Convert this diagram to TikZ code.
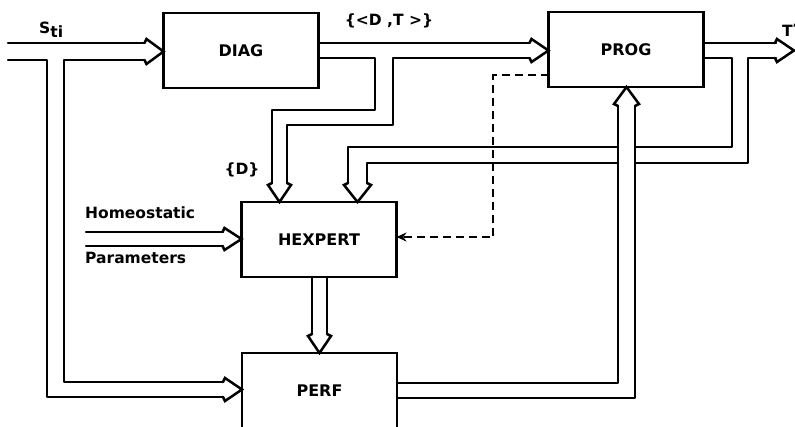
\documentclass[tikz,border=0pt]{standalone}
\usepackage{fontspec}
\setmainfont{DejaVu Sans}
\usetikzlibrary{arrows.meta,calc}
\tikzset{
  box/.style={draw, line width=2.8pt, outer sep=0pt, minimum width=155pt, minimum height=75pt, inner sep=0pt, font=\bfseries\fontsize{16}{18}\selectfont},
  arr/.style={line width=2.5pt, line cap=round, line join=round},
  lbl/.style={inner sep=0pt, font=\bfseries\fontsize{15.5}{17}\selectfont},
  dsh/.style={line width=2.2pt, dash pattern=on 8pt off 5pt, -{Stealth[length=10pt,width=9pt]}},
  pics/hd/.style={code={\draw[arr, line join=miter] (-19,-#1) -- (-17,-#1-4) -- (0,0) -- (-17,#1+4) -- (-19,#1);}},
}
\begin{document}
\begin{tikzpicture}[x=1pt,y=-1pt]
\useasboundingbox (0,0) rectangle (795,426);
\clip (0,0) rectangle (795,426);
% boxes
\node[box] (diag) at (241,50.5) {DIAG};
\node[box] (prog) at (626,49.5) {PROG};
\node[box] (hexpert) at (319,239.5) {HEXPERT};
\node[box] (perf) at (319.5,390.5) {PERF};
% input S_ti
\coordinate (in) at (8,51.5);
\draw[arr] (in |- 0,43) -- (144,43);
\draw[arr] (in |- 0,60) -- (47,60) -- (47,397) -- (223,397);
\draw[arr] (144,60) -- (64,60) -- (64,382) -- (223,382);
\pic at (diag.west |- 0,51.5) {hd=8.5};
\pic at (perf.west |- 0,389.5) {hd=7.5};
\node[lbl, anchor=base west] (sti) at (39,33) {S\raisebox{-4pt}{ti}};
% DIAG outputs
\draw[arr] (diag.east |- 0,43) -- (529,43);
\draw[arr] (diag.east |- 0,58) -- (375,58) -- (375,110) -- (272,110) -- (272,183);
\draw[arr] (287,183) -- (287,125) -- (393,125) -- (393,58) -- (529,58);
\pic at (prog.west |- 0,50.5) {hd=7.5};
\pic[rotate=-90] at (hexpert.north -| 279.5,0) {hd=7.5};
\node[lbl] (dt) at (389,21) {\{<D ,T >\}};
\node[lbl] (dset) at (242,170) {\{D\}};
% PROG outputs
\draw[arr] (prog.east |- 0,43) -- (776,43);
\pic at (794,50.5) {hd=7.5};
\node[lbl, anchor=base west] (tp) at (782,36) {T\raisebox{5pt}{\fontsize{10}{10}\selectfont'}};
\draw[arr] (prog.east |- 0,58) -- (732,58) -- (732,147) -- (635,147);
\draw[arr] (618,147) -- (348,147) -- (348,183);
\draw[arr] (367,183) -- (367,163) -- (618,163);
\draw[arr] (635,163) -- (748,163) -- (748,58) -- (776,58);
\pic[rotate=-90] at (hexpert.north -| 357.5,0) {hd=9.5};
% PERF -> PROG
\draw[arr] (perf.east |- 0,383) -- (618,383) -- (618,106);
\draw[arr] (635,106) -- (635,398) -- (perf.east |- 0,398);
\pic[rotate=90] at (prog.south -| 626.5,0) {hd=8.5};
% HEXPERT -> PERF
\draw[arr] (hexpert.south -| 312,0) -- (312,334);
\draw[arr] (hexpert.south -| 327,0) -- (327,334);
\pic[rotate=-90] at (perf.north -| 319.5,0) {hd=7.5};
% homeostatic parameters
\draw[arr] (86,232) -- (223,232);
\draw[arr] (86,246) -- (223,246);
\pic at (hexpert.west |- 0,239) {hd=7};
\node[lbl, anchor=base west] (homeo) at (85,218) {Homeostatic};
\node[lbl, anchor=base west] (param) at (85,263) {Parameters};
% dashed feedback
\draw[dsh] (prog.west |- 0,75) -- (493,75) -- (493,237) -- (hexpert.east |- 0,237);
\end{tikzpicture}
\end{document}
